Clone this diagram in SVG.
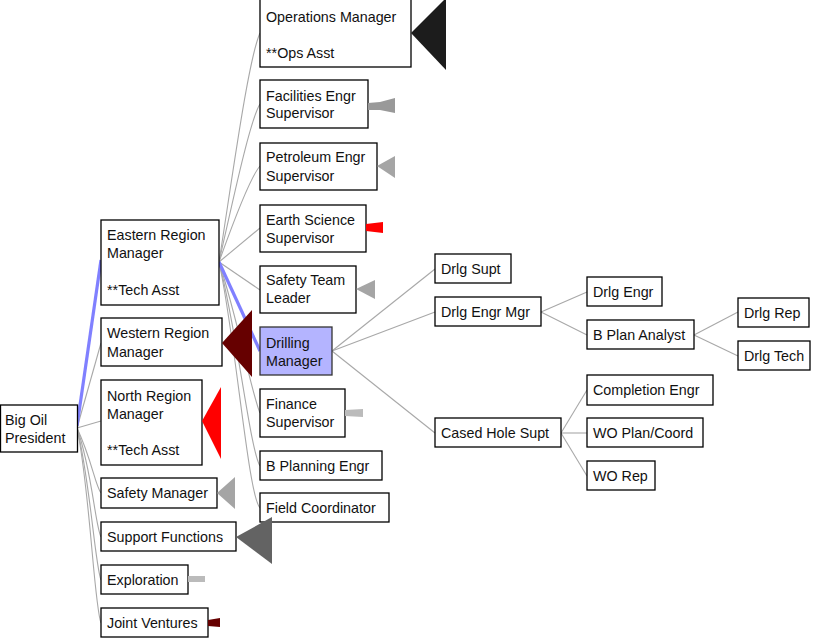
<svg xmlns="http://www.w3.org/2000/svg" width="814" height="639" viewBox="0 0 814 639">
<style>
.n rect{fill:#fff;stroke:#000;stroke-width:1.3}
.n.sel rect{fill:#b4b4ff;stroke:#333}
text{font-family:"Liberation Sans",Arial,sans-serif;font-size:14.3px;fill:#111}
.c path{fill:none;stroke:#a8a8a8;stroke-width:1.1}
.c path.hl{stroke:#8080ff;stroke-width:3.2}
</style>
<rect width="814" height="639" fill="#fff"/>
<g class="c" id="connectors">
<path d="M77,428 L101,343"/>
<path d="M77,428 L101,421"/>
<path d="M77,428 C92,460 95,485 101,493"/>
<path d="M77,428 C92,470 95,525 101,537"/>
<path d="M77,428 C90,480 95,565 101,580"/>
<path d="M77,428 C90,490 94,605 101,623"/>
<path d="M219,262 C232,180 248,60 260,33"/>
<path d="M219,262 C233,200 250,120 260,104"/>
<path d="M219,262 C234,220 252,175 260,166"/>
<path d="M219,262 L260,228"/>
<path d="M219,262 L260,290"/>
<path d="M219,262 C238,320 252,395 260,413"/>
<path d="M219,262 C237,330 250,450 260,466"/>
<path d="M219,262 C236,340 248,495 260,508"/>
<path d="M332,351 L435,269"/>
<path d="M332,351 L435,312"/>
<path d="M332,351 L435,433"/>
<path d="M541,312 L587,292"/>
<path d="M541,312 L587,335"/>
<path d="M694,335 L738,312"/>
<path d="M694,335 L738,356"/>
<path d="M561,433 L587,390"/>
<path d="M561,433 L587,433"/>
<path d="M561,433 L587,476"/>
<path class="hl" d="M77,426 L101,260"/>
<path class="hl" d="M219,262 L260,351"/>
</g>
<g id="president" class="n"><rect x="0.5" y="405" width="77" height="47"/><text x="5" y="425">Big Oil</text><text x="5" y="443">President</text></g>
<g id="eastern" class="n"><rect x="101" y="220" width="118" height="85"/><text x="107" y="240">Eastern Region</text><text x="107" y="258">Manager</text><text x="107" y="295">**Tech Asst</text></g>
<g id="western" class="n"><rect x="101" y="318" width="121" height="48"/><text x="107" y="338">Western Region</text><text x="107" y="357">Manager</text></g>
<g id="north" class="n"><rect x="101" y="380" width="101" height="85"/><text x="107" y="401">North Region</text><text x="107" y="419">Manager</text><text x="107" y="455">**Tech Asst</text></g>
<g id="safety-mgr" class="n"><rect x="101" y="478" width="116" height="30"/><text x="107" y="498">Safety Manager</text></g>
<g id="support" class="n"><rect x="101" y="522" width="135" height="29"/><text x="107" y="542">Support Functions</text></g>
<g id="exploration" class="n"><rect x="101" y="565" width="87" height="29"/><text x="107" y="585">Exploration</text></g>
<g id="jv" class="n"><rect x="101" y="608" width="107" height="29"/><text x="107" y="628">Joint Ventures</text></g>
<g id="ops" class="n"><rect x="260" y="-1" width="151" height="68"/><text x="266" y="22">Operations Manager</text><text x="266" y="58">**Ops Asst</text></g>
<g id="facilities" class="n"><rect x="260" y="80" width="108" height="48"/><text x="266" y="101">Facilities Engr</text><text x="266" y="118">Supervisor</text></g>
<g id="petroleum" class="n"><rect x="260" y="143" width="117" height="47"/><text x="266" y="162">Petroleum Engr</text><text x="266" y="181">Supervisor</text></g>
<g id="earth" class="n"><rect x="260" y="205" width="106" height="47"/><text x="266" y="225">Earth Science</text><text x="266" y="243">Supervisor</text></g>
<g id="safety-team" class="n"><rect x="260" y="266" width="96" height="47"/><text x="266" y="285">Safety Team</text><text x="266" y="303">Leader</text></g>
<g id="drilling" class="n sel"><rect x="260" y="327" width="72" height="48"/><text x="266" y="348">Drilling</text><text x="266" y="366">Manager</text></g>
<g id="finance" class="n"><rect x="260" y="389" width="85" height="48"/><text x="266" y="409">Finance</text><text x="266" y="427">Supervisor</text></g>
<g id="bplanning" class="n"><rect x="260" y="451" width="122" height="29"/><text x="266" y="471">B Planning Engr</text></g>
<g id="field" class="n"><rect x="260" y="493" width="129" height="29"/><text x="266" y="513">Field Coordinator</text></g>
<g id="drlg-supt" class="n"><rect x="435" y="254" width="76" height="29"/><text x="441" y="274">Drlg Supt</text></g>
<g id="drlg-engr-mgr" class="n"><rect x="435" y="297" width="106" height="29"/><text x="441" y="317">Drlg Engr Mgr</text></g>
<g id="cased" class="n"><rect x="435" y="418" width="126" height="29"/><text x="441" y="438">Cased Hole Supt</text></g>
<g id="drlg-engr" class="n"><rect x="587" y="277" width="75" height="29"/><text x="593" y="297">Drlg Engr</text></g>
<g id="bplan" class="n"><rect x="587" y="320" width="107" height="29"/><text x="593" y="340">B Plan Analyst</text></g>
<g id="completion" class="n"><rect x="587" y="375" width="126" height="30"/><text x="593" y="395">Completion Engr</text></g>
<g id="wo-plan" class="n"><rect x="587" y="418" width="116" height="29"/><text x="593" y="438">WO Plan/Coord</text></g>
<g id="wo-rep" class="n"><rect x="587" y="461" width="68" height="29"/><text x="593" y="481">WO Rep</text></g>
<g id="drlg-rep" class="n"><rect x="738" y="298" width="71" height="29"/><text x="744" y="318">Drlg Rep</text></g>
<g id="drlg-tech" class="n"><rect x="738" y="341" width="72" height="29"/><text x="744" y="361">Drlg Tech</text></g>
<g id="indicators">
<polygon points="411,33 446,-2 446,70" fill="#1c1c1c"/>
<polygon points="368,103 380,102 395,98 395,113 380,110 368,110" fill="#999"/>
<polygon points="377,166 395,156 395,178" fill="#a5a5a5"/>
<polygon points="366,224 383,222 383,233 366,231" fill="#f00"/>
<polygon points="356,289 375,280 375,299" fill="#a5a5a5"/>
<polygon points="222,343 252,310 252,377" fill="#660000"/>
<polygon points="202,421 221,387 221,459" fill="#f00"/>
<polygon points="217,493 235,477 235,509" fill="#a5a5a5"/>
<polygon points="236,537 272,517 272,564" fill="#636363"/>
<rect x="188" y="576" width="17" height="6" fill="#bbb"/>
<polygon points="345,410 363,409 363,417 345,416" fill="#bbb"/>
<polygon points="208,620 220,618 220,627 208,626" fill="#660000"/>
</g>
</svg>
